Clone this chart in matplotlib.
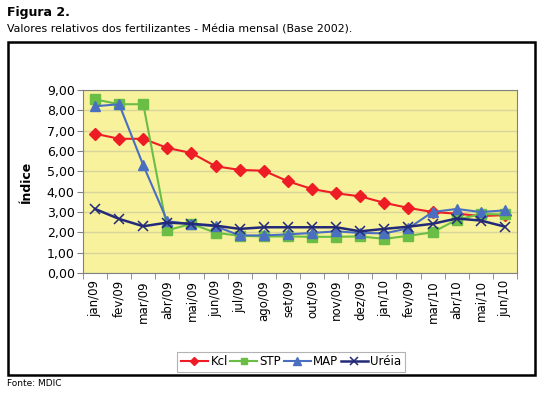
import numpy as np
import matplotlib
matplotlib.use("Agg")
import matplotlib.pyplot as plt
from matplotlib.patches import Rectangle

plt.rcParams['font.family'] = ['Liberation Sans Narrow', 'DejaVu Sans']

# dados
meses = ["jan/09", "fev/09", "mar/09", "abr/09", "mai/09", "jun/09", "jul/09",
         "ago/09", "set/09", "out/09", "nov/09", "dez/09", "jan/10", "fev/09",
         "mar/10", "abr/10", "mai/10", "jun/10"]
kcl = [6.85, 6.6, 6.6, 6.15, 5.9, 5.25, 5.07, 5.03, 4.51, 4.13, 3.92, 3.77,
       3.45, 3.2, 3.0, 2.92, 2.8, 2.85]
stp = [8.54, 8.3, 8.3, 2.1, 2.42, 1.98, 1.83, 1.8, 1.8, 1.78, 1.78, 1.8,
       1.68, 1.83, 2.0, 2.62, 2.9, 2.88]
map_ = [8.2, 8.3, 5.3, 2.55, 2.4, 2.3, 1.85, 1.85, 1.9, 1.97, 2.05, 1.97,
        1.95, 2.2, 3.0, 3.15, 3.0, 3.08]
ureia = [3.15, 2.66, 2.3, 2.48, 2.42, 2.33, 2.17, 2.25, 2.25, 2.25, 2.25, 2.05,
         2.17, 2.28, 2.42, 2.68, 2.58, 2.28]

fig = plt.figure(figsize=(5.41, 3.93), dpi=100)

# moldura externa
fig.patches.append(Rectangle((0.0148, 0.0458), 0.974, 0.847, transform=fig.transFigure,
                             fill=False, edgecolor='black', linewidth=1.8, zorder=0))

fig.text(0.013, 0.968, "Figura 2.", fontsize=9, fontweight='bold', va='center')
fig.text(0.013, 0.926, "Valores relativos dos fertilizantes - Média mensal (Base 2002).",
         fontsize=7.9, va='center')
fig.text(0.013, 0.025, "Fonte: MDIC", fontsize=6.5, va='center')

ax = fig.add_axes([0.1534, 0.3053, 0.8022, 0.4657])
ax.set_facecolor('#f8f29c')
x = np.arange(len(meses))

ax.plot(x, kcl, color='#ee1c25', marker='D', markersize=6, linewidth=1.5, label='Kcl')
ax.plot(x, stp, color='#6abd45', marker='s', markersize=6.5, linewidth=1.5, label='STP')
ax.plot(x, map_, color='#4a6fc0', marker='^', markersize=7.5, linewidth=1.5, label='MAP')
ax.plot(x, ureia, color='#232a78', marker='x', markersize=7.5, markeredgewidth=1.1,
        linewidth=1.8, label='Uréia')

ax.set_xlim(-0.5, len(meses) - 0.5)
ax.set_ylim(0, 9)
ax.set_yticks(np.arange(0, 10, 1))
ax.set_yticklabels([("%.2f" % v).replace('.', ',') for v in np.arange(0, 10, 1)], fontsize=9)
ax.set_xticks(x)
ax.set_xticklabels(meses, rotation=90, fontsize=8.5)
ax.set_xticks(np.arange(-0.5, len(meses), 1), minor=True)
ax.tick_params(axis='x', which='major', length=0, pad=5)
ax.tick_params(axis='x', which='minor', length=4, color='#808080')
ax.tick_params(axis='y', length=4, color='#808080', pad=2)
ax.grid(axis='y', color='#d9d49b', linewidth=1)
ax.set_axisbelow(True)
for s in ax.spines.values():
    s.set_color('#808080')

ax.set_ylabel("Índice", fontsize=9, fontweight='bold', labelpad=10)

leg = fig.legend(loc='center', bbox_to_anchor=(0.538, 0.079), ncol=4, fontsize=8.5,
                 frameon=True, fancybox=False, handlelength=2.3, handletextpad=0.2,
                 columnspacing=0.2, borderpad=0.3, markerscale=0.7)
leg.get_frame().set_edgecolor('#a0a0a0')
leg.get_frame().set_linewidth(0.8)

fig.savefig("out.png", dpi=100)
